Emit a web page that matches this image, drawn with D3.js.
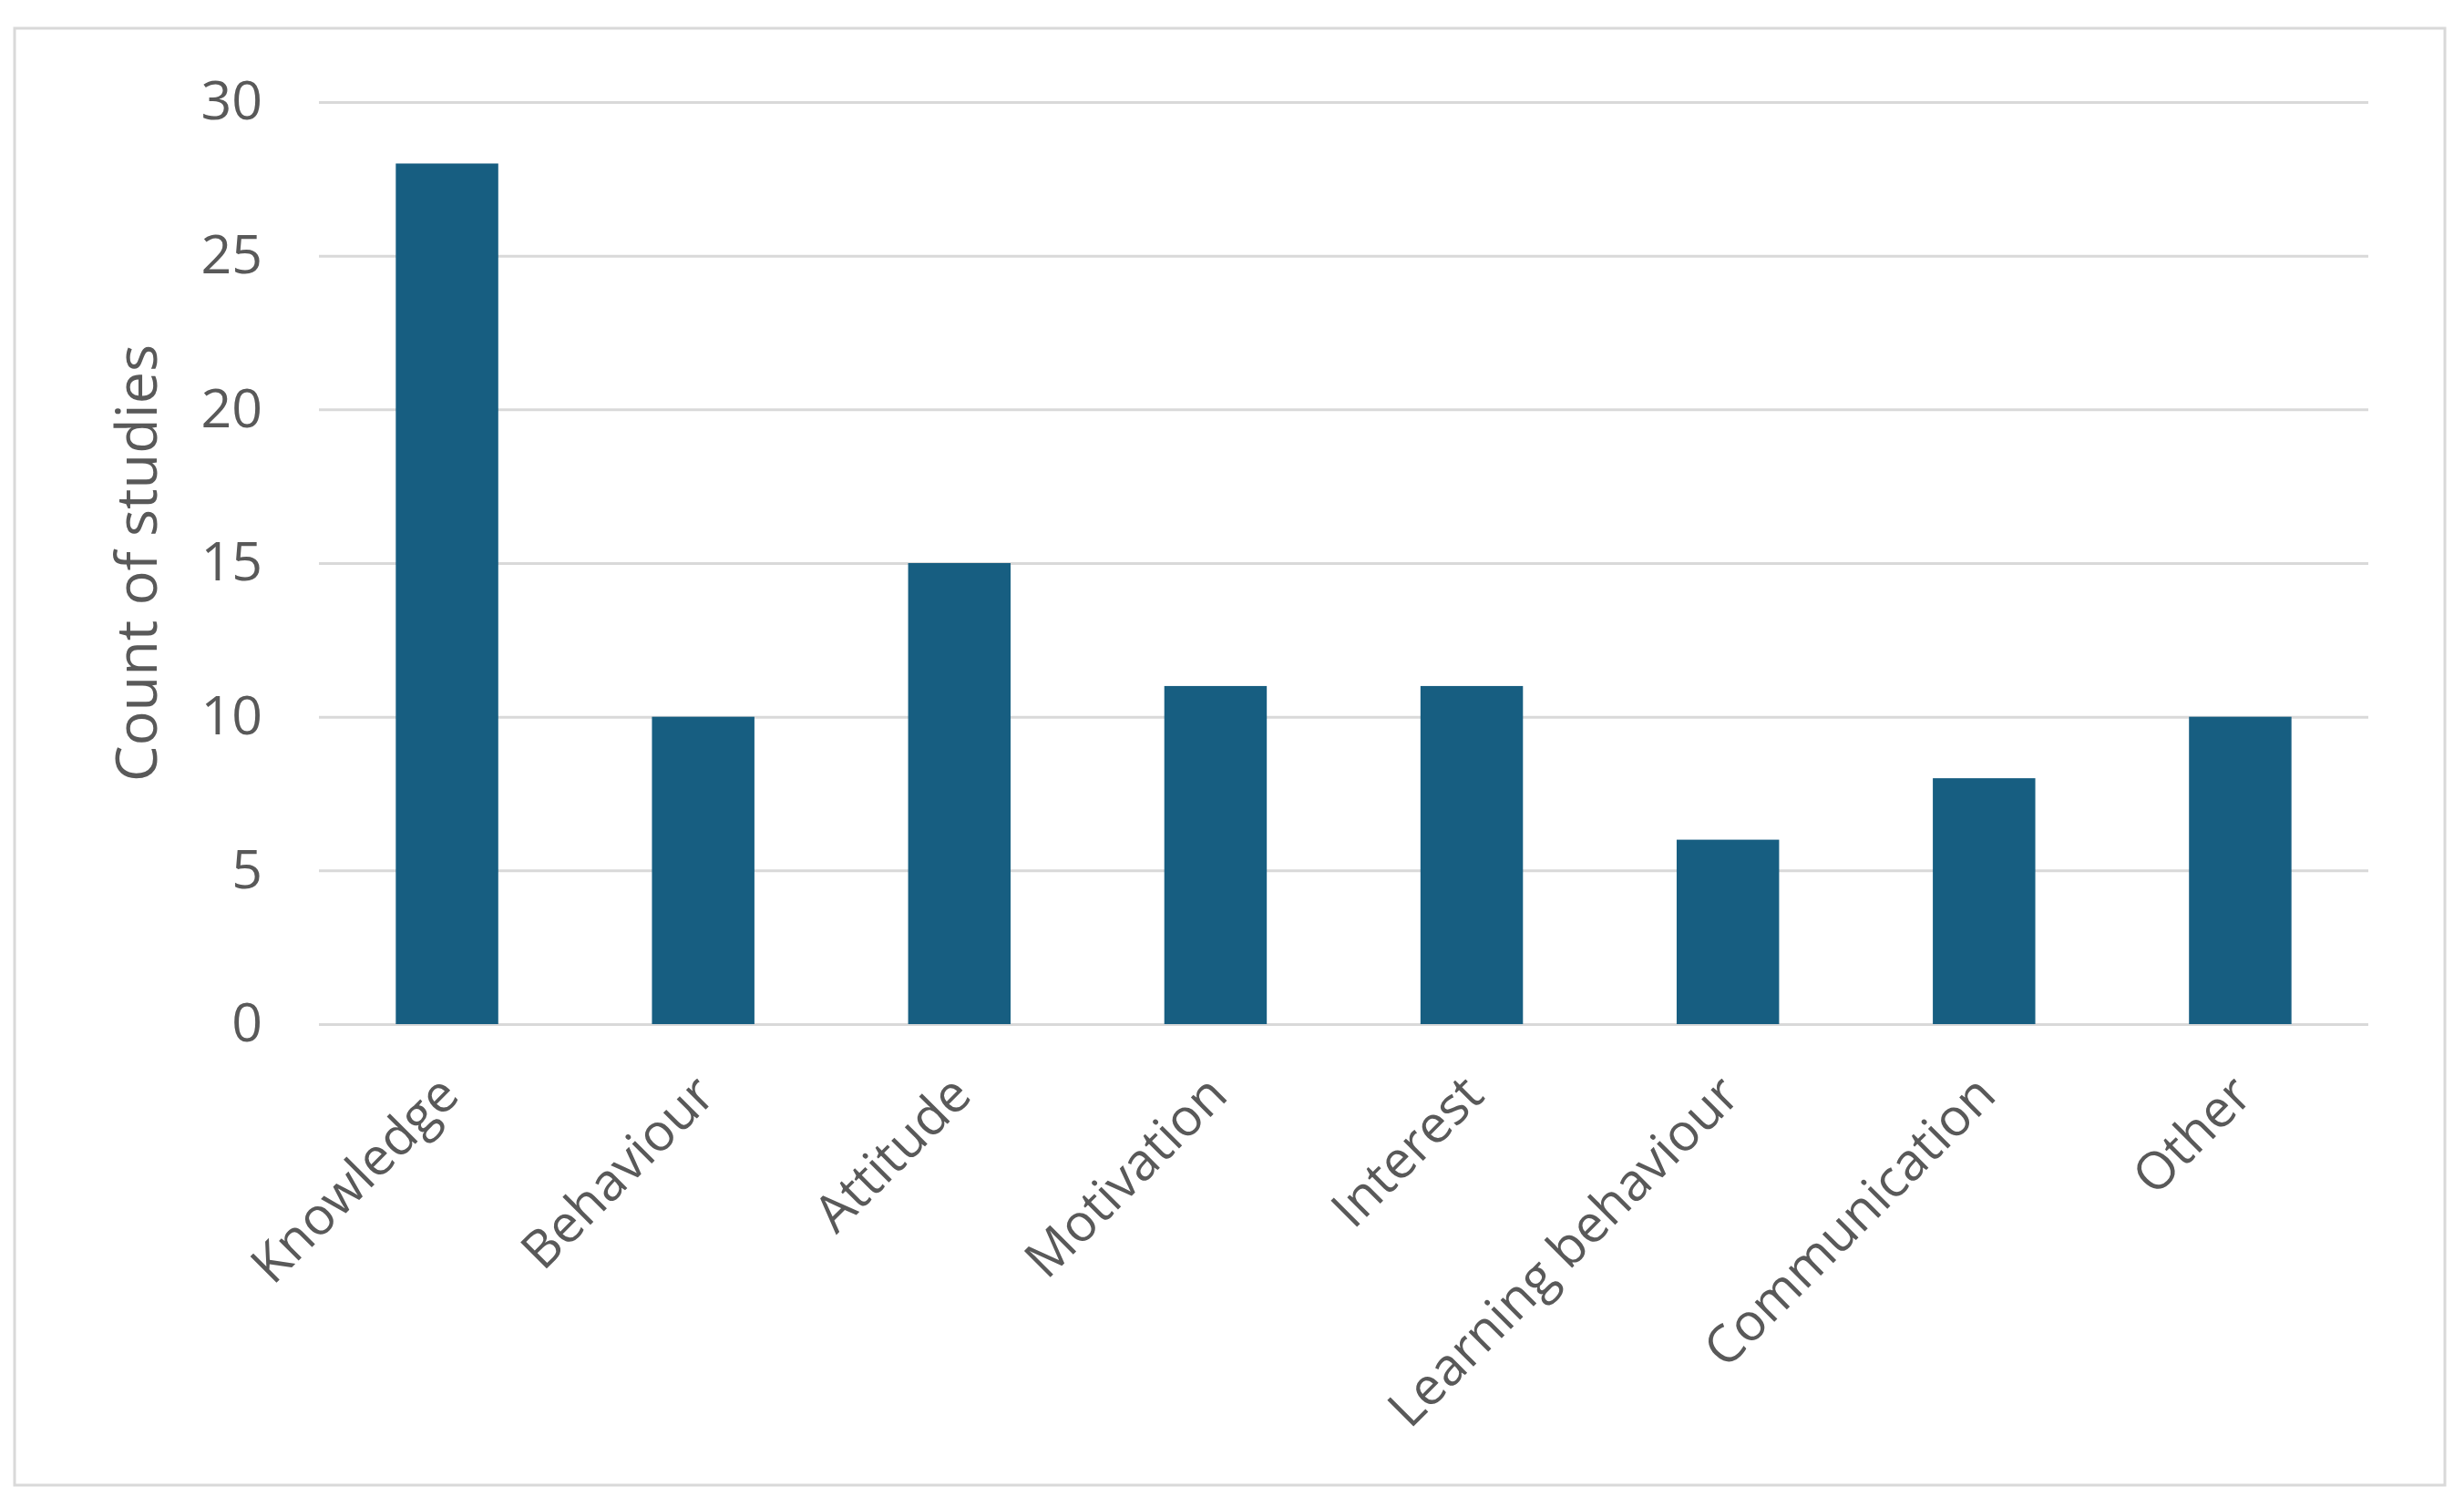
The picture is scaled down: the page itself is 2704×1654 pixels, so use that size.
<!DOCTYPE html>
<html>
<head>
<meta charset="utf-8">
<script src="https://cdn.jsdelivr.net/npm/d3@7"></script>
<style>
  html, body { margin: 0; padding: 0; background: #ffffff; }
  svg { display: block; }
  text { font-family: "Open Sans", "Noto Sans", sans-serif; fill: #595959; }
</style>
</head>
<body>
<svg id="chart" width="2704" height="1654"></svg>
<script>
const categories = ["Knowledge", "Behaviour", "Attitude", "Motivation", "Interest", "Learning behaviour", "Communication", "Other"];
const counts = [28, 10, 15, 11, 11, 6, 8, 10];
const yTicks = [0, 5, 10, 15, 20, 25, 30];
const yTitle = "Count of studies";

const svg = d3.select("#chart");
const W = 2704, H = 1654;

svg.append("rect").attr("x", 0).attr("y", 0).attr("width", W).attr("height", H).attr("fill", "#ffffff");
// frame
svg.append("rect")
  .attr("x", 16).attr("y", 31).attr("width", 2667).attr("height", 1599)
  .attr("fill", "#ffffff").attr("stroke", "#d9d9d9").attr("stroke-width", 3);

const plot = { left: 350, right: 2599, top: 112, bottom: 1124 };

const x = d3.scaleBand().domain(categories).range([plot.left, plot.right]).paddingInner(0.6).paddingOuter(0.3);
const y = d3.scaleLinear().domain([0, 30]).range([plot.bottom, plot.top]);

// gridlines
const yAxis = d3.axisLeft(y).tickValues(yTicks).tickSize(-(plot.right - plot.left)).tickPadding(62).tickFormat(d3.format("d"));
const gy = svg.append("g").attr("transform", `translate(${plot.left},0)`).call(yAxis);
gy.select(".domain").remove();
gy.selectAll(".tick line").attr("stroke", "#d9d9d9").attr("stroke-width", 3);
gy.selectAll(".tick text").attr("font-size", 59).attr("fill", "#595959")
  .style("font-family", "'Open Sans', sans-serif");

// bars
svg.append("g").selectAll("rect").data(categories).join("rect")
  .attr("x", d => x(d))
  .attr("width", x.bandwidth())
  .attr("y", (d, i) => y(counts[i]))
  .attr("height", (d, i) => y(0) - y(counts[i]))
  .attr("fill", "#175e81");

// x labels
const xAxis = d3.axisBottom(x).tickSize(0).tickPadding(0);
const gx = svg.append("g").attr("transform", `translate(0,${plot.bottom})`).call(xAxis);
gx.select(".domain").remove();
gx.selectAll(".tick text")
  .attr("font-size", 57).attr("fill", "#595959")
  .style("font-family", "'Open Sans', sans-serif")
  .attr("text-anchor", "end")
  .attr("dy", null).attr("y", 0)
  .attr("transform", "translate(5,70) rotate(-45)")
  .attr("dominant-baseline", "middle");

// y title
svg.append("text")
  .attr("transform", `translate(155,${(plot.top + plot.bottom) / 2}) rotate(-90)`)
  .attr("text-anchor", "middle")
  .attr("dominant-baseline", "middle")
  .attr("font-size", 63)
  .attr("fill", "#595959")
  .text(yTitle);
</script>
</body>
</html>
